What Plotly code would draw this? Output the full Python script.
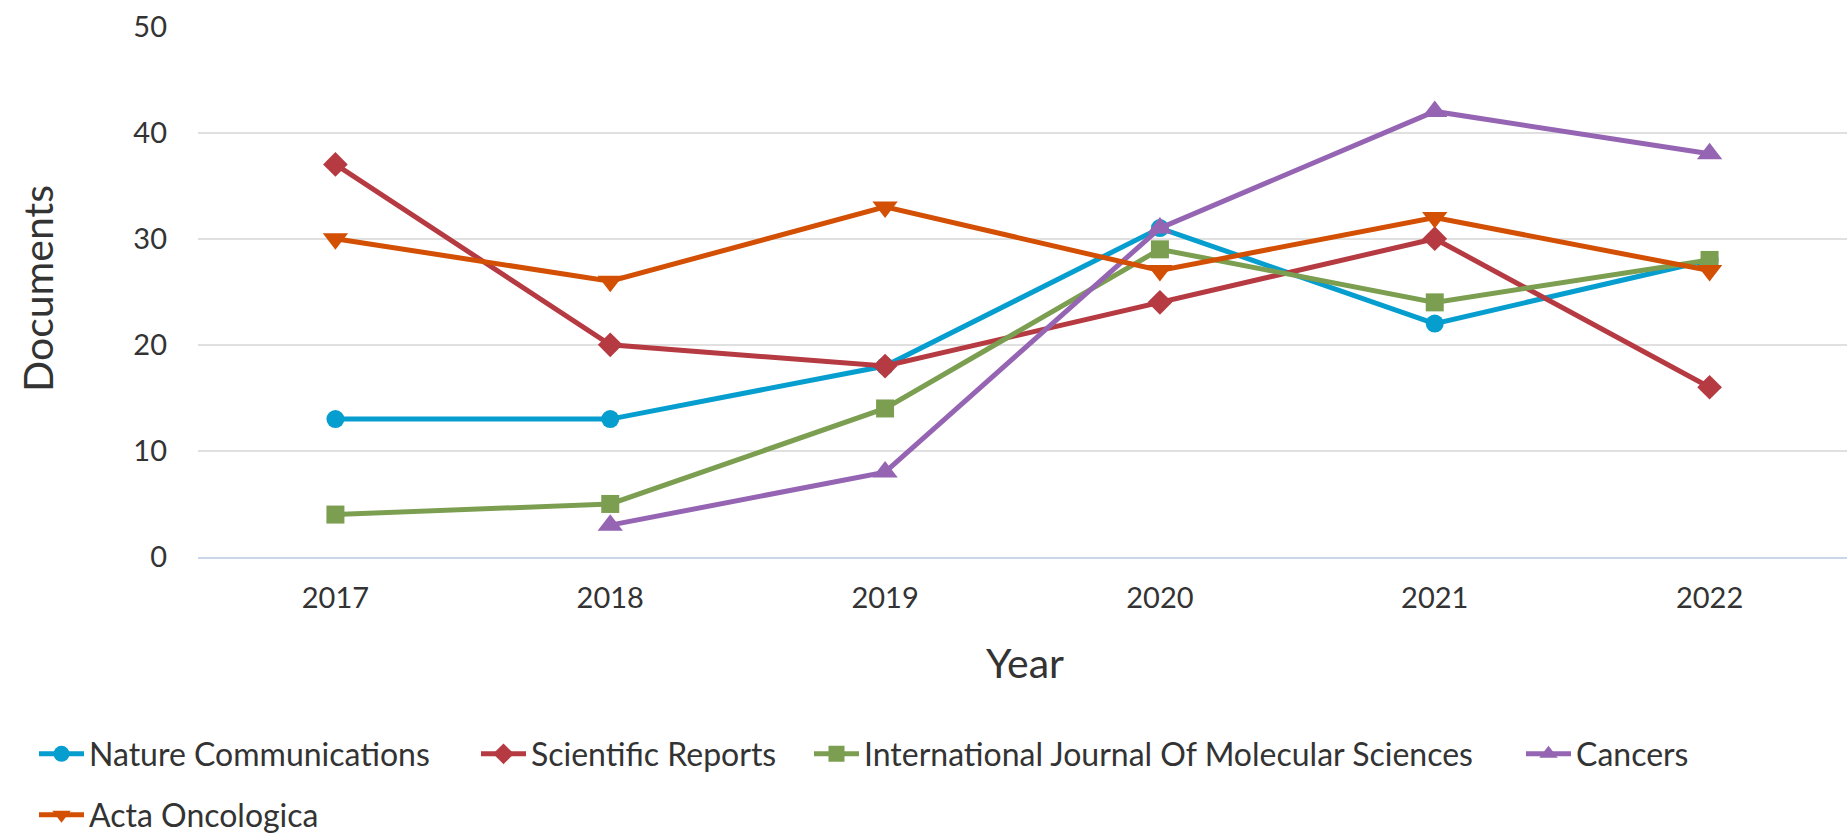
import plotly.graph_objects as go

years = ["2017", "2018", "2019", "2020", "2021", "2022"]
nature_communications = [13, 13, 18, 31, 22, 28]
scientific_reports = [37, 20, 18, 24, 30, 16]
ijms = [4, 5, 14, 29, 24, 28]
cancers = [None, 3, 8, 31, 42, 38]
acta_oncologica = [30, 26, 33, 27, 32, 27]

names = ["Nature Communications", "Scientific Reports",
         "International Journal Of Molecular Sciences", "Cancers", "Acta Oncologica"]
series = [nature_communications, scientific_reports, ijms, cancers, acta_oncologica]
colors = ["#069ecf", "#b63a42", "#7b9e50", "#9565b3", "#d24f03"]
symbols = ["circle", "diamond", "square", "triangle-up", "triangle-down"]
sizes = [18, 19, 18, 22, 22]

W, H = 1847, 836
L, R, T, B = 198, 0, 26, 279
pw, ph = W - L - R, H - T - B

FONT = "Lato, 'Liberation Sans', sans-serif"
TXT = "#333333"

# legend positions (pixels in page coords): x left, y center
leg_pos = [(34, 754), (476, 754), (809, 754), (1521, 754), (34, 815)]

fig = go.Figure()
legend_keys = ["legend", "legend2", "legend3", "legend4", "legend5"]
for i, (n, s) in enumerate(zip(names, series)):
    fig.add_trace(go.Scatter(
        x=years, y=s, name=n, mode="lines+markers",
        line=dict(color=colors[i], width=5),
        marker=dict(symbol=symbols[i], size=sizes[i], color=colors[i]),
        legend=legend_keys[i], connectgaps=False,
    ))

layout_legends = {}
for i, key in enumerate(legend_keys):
    px, py = leg_pos[i]
    layout_legends[key] = dict(
        x=(px - L) / pw, y=(H - B - py) / ph, xanchor="left", yanchor="middle",
        orientation="h", font=dict(family=FONT, size=32, color=TXT),
        itemwidth=45, bgcolor="rgba(0,0,0,0)", borderwidth=0,
        itemclick=False, itemdoubleclick=False,
    )

fig.update_layout(
    width=W, height=H,
    margin=dict(l=L, r=R, t=T, b=B, autoexpand=False),
    paper_bgcolor="white", plot_bgcolor="white",
    showlegend=True,
    **layout_legends,
    xaxis=dict(
        type="category", range=[-0.5, 5.5],
        showgrid=False, showline=True, linecolor="#ccd6eb", linewidth=1.5,
        ticks="", ticklabelstandoff=14,
        tickfont=dict(family=FONT, size=29, color=TXT),
        zeroline=False, fixedrange=True,
    ),
    yaxis=dict(
        range=[0, 50.05], dtick=10, tick0=0,
        showgrid=True, gridcolor="#e0e0e0", gridwidth=1.5,
        showline=False, zeroline=False, ticks="", ticklabelstandoff=30,
        tickfont=dict(family=FONT, size=29, color=TXT),
        fixedrange=True,
    ),
    annotations=[
        dict(text="Year", xref="paper", yref="paper",
             x=(1025 - L) / pw, y=(H - B - 662) / ph,
             xanchor="center", yanchor="middle", showarrow=False,
             font=dict(family=FONT, size=41, color=TXT)),
        dict(text="Documents", textangle=-90, xref="paper", yref="paper",
             x=(37 - L) / pw, y=(H - B - 289) / ph,
             xanchor="center", yanchor="middle", showarrow=False,
             font=dict(family=FONT, size=41, color=TXT)),
    ],
)

fig.write_html("out.html", config=dict(displayModeBar=False),
               post_script="document.body.style.margin='0';document.body.style.overflow='hidden';")
